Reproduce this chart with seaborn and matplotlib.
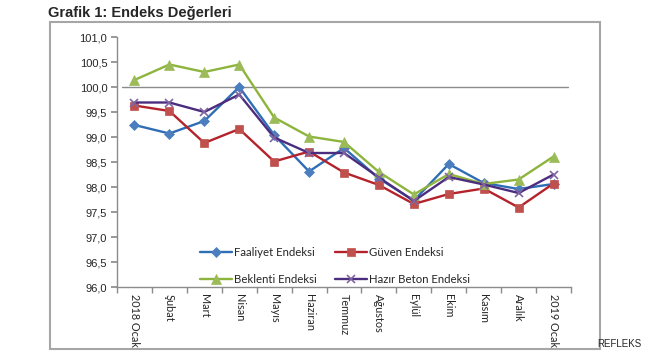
import matplotlib.pyplot as plt
import matplotlib.patches as patches
import numpy as np
import pandas as pd
import seaborn as sns

sns.set_theme(style="white")
plt.rcParams["font.family"] = ["Lato", "DejaVu Sans"]

# data
months = ["2018 Ocak", "Şubat", "Mart", "Nisan", "Mayıs", "Haziran", "Temmuz",
          "Ağustos", "Eylül", "Ekim", "Kasım", "Aralık", "2019 Ocak"]
faaliyet = [99.24, 99.07, 99.32, 100.0, 99.04, 98.31, 98.78, 98.17, 97.73, 98.46, 98.08, 97.96, 98.06]
guven = [99.63, 99.52, 98.88, 99.16, 98.51, 98.71, 98.29, 98.04, 97.66, 97.86, 97.97, 97.59, 98.07]
beklenti = [100.14, 100.45, 100.30, 100.45, 99.39, 99.01, 98.90, 98.30, 97.85, 98.26, 98.06, 98.15, 98.61]
hazir_beton = [99.69, 99.69, 99.50, 99.85, 98.99, 98.68, 98.68, 98.19, 97.72, 98.20, 98.05, 97.88, 98.25]
baseline = 100.0
y_ticks = np.arange(96.0, 101.01, 0.5)

series = [
    ("Faaliyet Endeksi", faaliyet, "#2F6DB5", "#4A7EBF", "D", 5.0),
    ("Güven Endeksi", guven, "#B4232B", "#C0504D", "s", 6.0),
    ("Beklenti Endeksi", beklenti, "#8DB43C", "#9BBB59", "^", 6.5),
    ("Hazır Beton Endeksi", hazir_beton, "#4B2C7F", "#8064A2", "x", 6.0),
]

fig = plt.figure(figsize=(6.5, 3.6), dpi=100)
ax = fig.add_axes([117 / 650, 1 - 287 / 360, 454 / 650, 250 / 360])

for name, vals, lc, mc, mk, ms in series:
    df = pd.DataFrame({"Ay": months, "Değer": vals})
    sns.lineplot(data=df, x="Ay", y="Değer", ax=ax, sort=False, color=lc,
                 linewidth=1.7, marker=mk, markersize=ms, markerfacecolor=mc,
                 markeredgecolor=mc, markeredgewidth=1.2 if mk == "x" else 0.5,
                 label=name)

ax.axhline(baseline, xmin=0.012, xmax=0.994, color="#8C8C8C", linewidth=1.0, zorder=1)

ax.set_xlim(-0.5, len(months) - 0.5)
ax.set_ylim(y_ticks[0], y_ticks[-1])
ax.set_yticks(y_ticks)
ax.set_yticklabels([f"{v:.1f}".replace(".", ",") for v in y_ticks], fontsize=8,
                   family=["Liberation Sans", "DejaVu Sans"])
ax.set_xticks(range(len(months)))
ax.set_xticklabels(months, rotation=-90, fontsize=7.8, va="top", ha="center")
ax.set_xticks(np.arange(-0.5, len(months), 1), minor=True)
ax.tick_params(axis="x", which="major", length=0, pad=5)
ax.tick_params(axis="x", which="minor", length=4, color="#8C8C8C", direction="out", bottom=True)
ax.tick_params(axis="y", length=4, color="#8C8C8C", direction="out", left=True, pad=3)
ax.set_xlabel("")
ax.set_ylabel("")
for side in ["top", "right"]:
    ax.spines[side].set_visible(False)
for side in ["left", "bottom"]:
    ax.spines[side].set_color("#8C8C8C")
    ax.spines[side].set_linewidth(1.0)
ax.grid(False)

# legend filled row by row: Faaliyet, Güven / Beklenti, Hazır Beton
handles, labels = ax.get_legend_handles_labels()
order = [0, 2, 1, 3]
ax.legend([handles[i] for i in order], [labels[i] for i in order], ncol=2,
          loc="lower left", bbox_to_anchor=(0.165, -0.022), frameon=False,
          fontsize=8.2, handlelength=2.8, handletextpad=0.2, columnspacing=1.6,
          labelspacing=1.4, borderpad=0.2)

fig.text(48 / 650, 1 - 13 / 360, "Grafik 1: Endeks Değerleri", fontsize=10.5,
         fontweight="bold", va="center", ha="left", family=["Liberation Sans", "DejaVu Sans"])
fig.patches.append(patches.Rectangle((50 / 650, 1 - 349 / 360), 550 / 650, 327 / 360,
                                     transform=fig.transFigure, fill=False,
                                     edgecolor="#A6A6A6", linewidth=1.5))
fig.text(597 / 650, 1 - 344 / 360, "REFLEKS", fontsize=7, va="center", ha="left",
         family=["Liberation Sans", "DejaVu Sans"])

fig.savefig("out.png", dpi=100, facecolor="white")
